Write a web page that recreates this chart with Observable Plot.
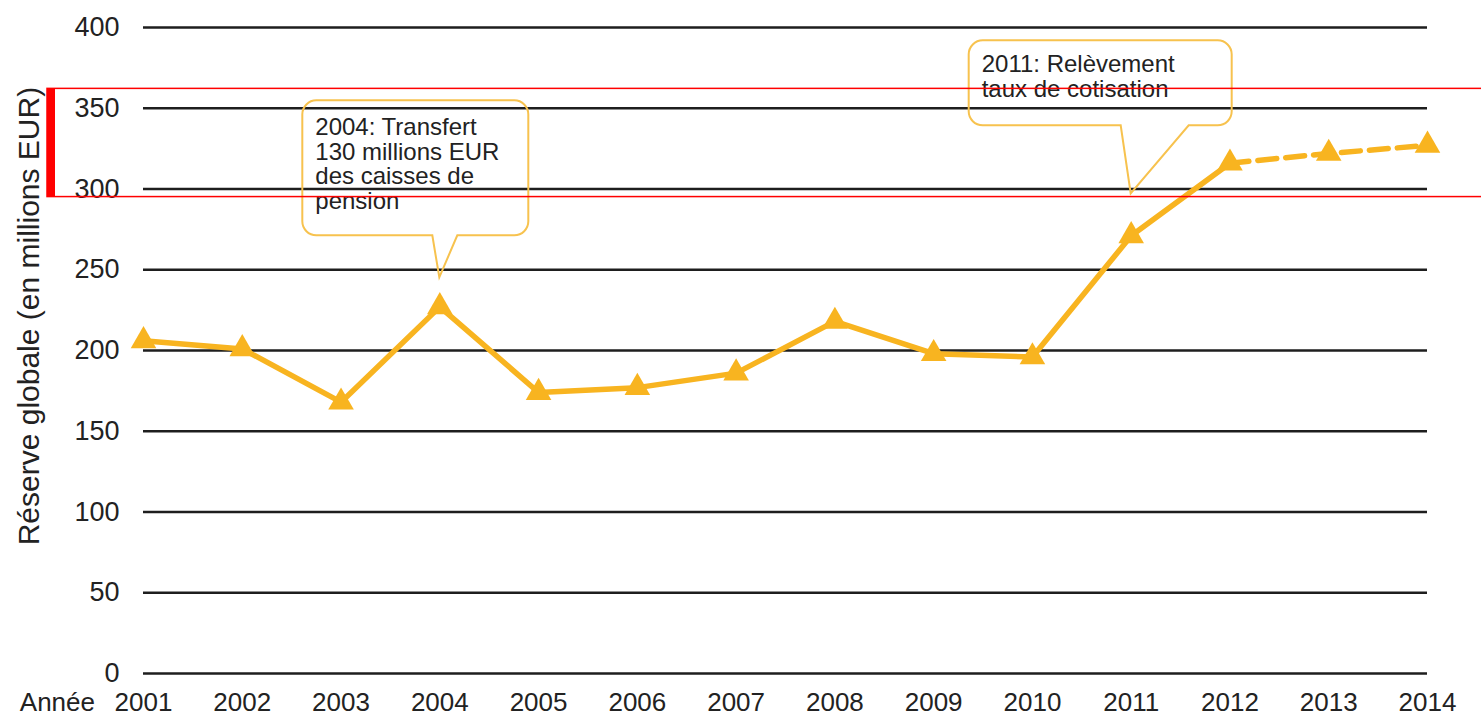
<!DOCTYPE html>
<html>
<head>
<meta charset="utf-8">
<script src="https://cdn.jsdelivr.net/npm/d3@7"></script>
<script src="https://cdn.jsdelivr.net/npm/@observablehq/plot@0.6"></script>
<style>
  html, body { margin: 0; padding: 0; background: #fff; }
  #chart svg { display: block; }
</style>
</head>
<body>
<div id="chart"></div>
<script>
// ---- data ----
const years = [2001, 2002, 2003, 2004, 2005, 2006, 2007, 2008, 2009, 2010, 2011, 2012, 2013, 2014];
const reserve = [206, 201, 168, 227, 174, 177, 186, 218, 198, 196, 271, 316, 322, 327];
const lastActualYear = 2012;
const yTicks = [0, 50, 100, 150, 200, 250, 300, 350, 400];
const xTicks = years;
const yTitle = "Réserve globale (en millions EUR)";
const xTitle = "Année";
const noteYears = [2004, 2011];
const noteValues = [245, 297];
const noteTexts = [
  ["2004: Transfert", "130 millions EUR", "des caisses de", "pension"],
  ["2011: Relèvement", "taux de cotisation"]
];
const highlightRange = [295, 362];

// ---- styling / layout ----
const COLOR = "#F8B420";
const NOTE_STROKE = "#F7C24E";
const FONT = "'Liberation Sans', Arial, Helvetica, sans-serif";
// callout geometry, offsets in px relative to the pointer tip
const noteBoxes = [
  {left: -137, right: 89, top: -177, bottom: -42, baseL: -7, baseR: 18, textTop: 35},
  {left: -162, right: 101, top: -153, bottom: -68, baseL: -10, baseR: 58, textTop: 32}
];

const rows = years.map((y, i) => ({year: y, value: reserve[i]}));
const actual = rows.filter(d => d.year <= lastActualYear);
const projected = rows.filter(d => d.year >= lastActualYear);

const plot = Plot.plot({
  width: 1481,
  height: 716,
  marginLeft: 143,
  marginRight: 54,
  marginTop: 27,
  marginBottom: 43,
  style: {fontFamily: FONT, fontSize: "26px", color: "#222", background: "#fff", overflow: "visible"},
  x: {domain: [2001, 2014], ticks: xTicks},
  y: {domain: [0, 400], ticks: yTicks},
  marks: [
    Plot.ruleY(yTicks, {stroke: "#1e1e1e", strokeWidth: 2.4}),
    Plot.axisY({ticks: yTicks, tickSize: 0, tickPadding: 24, label: null, fontSize: 27, fill: "#222"}),
    Plot.axisX({ticks: xTicks, tickSize: 0, tickPadding: 19, label: null, tickFormat: d => String(d), fontSize: 26, fill: "#222"}),
    Plot.line(actual, {x: "year", y: "value", stroke: COLOR, strokeWidth: 5.5, strokeLinejoin: "round"}),
    Plot.line(projected, {x: "year", y: "value", stroke: COLOR, strokeWidth: 5.5, strokeDasharray: "19,9"}),
    Plot.dot(rows, {x: "year", y: "value", symbol: "triangle", r: 9.5, fill: COLOR, stroke: "none"})
  ]
});

document.getElementById("chart").appendChild(plot);

const xs = plot.scale("x");
const ys = plot.scale("y");
const svg = d3.select(plot);

// y-axis title
svg.append("text")
  .attr("transform", `translate(39,${ys.apply(221)}) rotate(-90)`)
  .attr("text-anchor", "middle")
  .attr("font-family", FONT)
  .attr("font-size", 30)
  .attr("fill", "#222")
  .text(yTitle);

// x-axis title, left of the first year
svg.append("text")
  .attr("x", xs.apply(2001) - 48)
  .attr("y", ys.apply(0) + 38)
  .attr("text-anchor", "end")
  .attr("font-family", FONT)
  .attr("font-size", 26)
  .attr("fill", "#222")
  .text(xTitle);

// callouts
noteYears.forEach((yr, i) => {
  const tx = xs.apply(yr), ty = ys.apply(noteValues[i]);
  const b = noteBoxes[i];
  const L = tx + b.left, R = tx + b.right, T = ty + b.top, B = ty + b.bottom, r = 14;
  const p = d3.path();
  p.moveTo(L + r, T);
  p.lineTo(R - r, T);
  p.arcTo(R, T, R, T + r, r);
  p.lineTo(R, B - r);
  p.arcTo(R, B, R - r, B, r);
  p.lineTo(tx + b.baseR, B);
  p.lineTo(tx, ty);
  p.lineTo(tx + b.baseL, B);
  p.lineTo(L + r, B);
  p.arcTo(L, B, L, B - r, r);
  p.lineTo(L, T + r);
  p.arcTo(L, T, L + r, T, r);
  p.closePath();
  svg.append("path")
    .attr("d", p.toString())
    .attr("fill", "none")
    .attr("stroke", NOTE_STROKE)
    .attr("stroke-width", 2);
  const t = svg.append("text")
    .attr("text-anchor", "start")
    .attr("font-family", FONT)
    .attr("font-size", 24)
    .attr("fill", "#222");
  noteTexts[i].forEach((line, j) => {
    t.append("tspan").attr("x", L + 13).attr("y", T + b.textTop + j * 24.5).text(line);
  });
});

// red highlight band
const hTop = ys.apply(highlightRange[1]), hBot = ys.apply(highlightRange[0]);
svg.append("rect")
  .attr("x", 47).attr("y", hTop)
  .attr("width", 1481 - 47 + 10).attr("height", hBot - hTop)
  .attr("fill", "none").attr("stroke", "#ff0000").attr("stroke-width", 1.5);
svg.append("rect")
  .attr("x", 47).attr("y", hTop)
  .attr("width", 8).attr("height", hBot - hTop)
  .attr("fill", "#ff0000");
</script>
</body>
</html>
